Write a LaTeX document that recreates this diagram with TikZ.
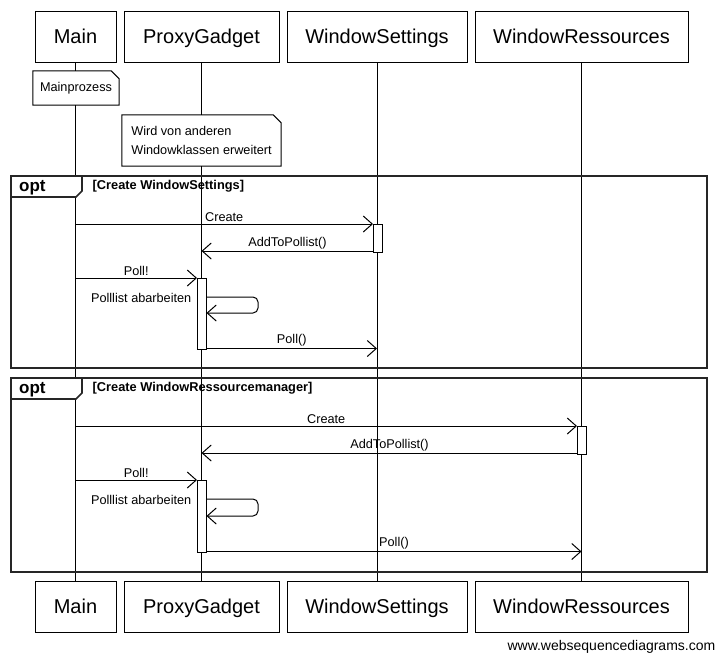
\documentclass[tikz,border=0pt]{standalone}
\usepackage{fontspec}
\setmainfont{Liberation Sans}
\usetikzlibrary{arrows.meta}
\begin{document}
\begin{tikzpicture}[x=1pt,y=-1pt,
  part/.style={draw, line width=1pt, fill=white, inner sep=0pt, minimum height=51pt, text height=17.5pt, text depth=4pt, font=\fontsize{20}{24}\selectfont},
  act/.style={draw, fill=white, line width=1pt, minimum width=9pt, inner sep=0pt},
  msg/.style={line width=1pt, -{Straight Barb[length=9pt,width=16pt]}},
  lbl/.style={font=\fontsize{12.7}{15}\selectfont, inner sep=1.5pt},
  framebox/.style={draw=black!85, line width=1.6pt},
  guard/.style={font=\bfseries\fontsize{12.8}{15}\selectfont, anchor=west, inner sep=0pt},
  optlbl/.style={font=\bfseries\fontsize{17}{20}\selectfont, anchor=west, inner sep=0pt},
  notebox/.style={fill=white, inner sep=0pt, align=left, font=\fontsize{12.7}{18.5}\selectfont},
  noteline/.style={line width=1pt}
]
\useasboundingbox (0,0) rectangle (716,654);

% participants
\node[part, minimum width=81pt]  (mainT) at (75.5,36.5) {Main};
\node[part, minimum width=155pt] (pgT)   at (201.5,36.5) {ProxyGadget};
\node[part, minimum width=180pt] (wsT)   at (377,36.5) {WindowSettings};
\node[part, minimum width=213pt] (wrT)   at (581.5,36.5) {WindowRessources};
\node[part, minimum width=81pt]  (mainB) at (75.5,606.5) {Main};
\node[part, minimum width=155pt] (pgB)   at (201.5,606.5) {ProxyGadget};
\node[part, minimum width=180pt] (wsB)   at (377,606.5) {WindowSettings};
\node[part, minimum width=213pt] (wrB)   at (581.5,606.5) {WindowRessources};

% lifelines
\draw[line width=1pt] (mainT.south) -- (mainB.north);
\draw[line width=1pt] (pgT.south) -- (pgB.north);
\draw[line width=1pt] (wsT.south) -- (wsB.north);
\draw[line width=1pt] (wrT.south) -- (wrB.north);

% notes
\node[notebox, minimum width=86pt, minimum height=34pt] (n1) at (76,88) {Mainprozess};
\draw[noteline] (n1.north west) -- ([xshift=-8pt]n1.north east) -- ([yshift=-8pt]n1.north east) -- (n1.south east) -- (n1.south west) -- cycle;
\node[notebox, minimum width=159pt, minimum height=51pt] (n2) at (201.5,140.5) {Wird von anderen\\Windowklassen erweitert};
\draw[noteline] (n2.north west) -- ([xshift=-8pt]n2.north east) -- ([yshift=-8pt]n2.north east) -- (n2.south east) -- (n2.south west) -- cycle;

% ---------- frame 1 ----------
\draw[framebox] (11,176) rectangle (707,368);
\draw[framebox, fill=white] (11,176) -- (82,176) -- (82,191) -- (76,197) -- (11,197) -- cycle;
\node[optlbl] (opt1) at (19,187.5) {opt};
\node[guard] (g1) at (92.5,186) {[Create WindowSettings]};

\node[act, minimum height=28pt] (wsA1) at (378,238) {};
\node[act, minimum height=71pt] (pgA1) at (202,313.5) {};

\coordinate (a1) at (75.5,224);
\draw[msg] (a1) -- (a1 -| wsA1.west) node[lbl, midway, above] {Create};
\coordinate (a2) at (373.5,251);
\draw[msg] (a2) -- (a2 -| pgT.south) node[lbl, midway, above] {AddToPollist()};
\coordinate (a3) at (75.5,278);
\draw[msg] (a3) -- (a3 -| pgA1.west) node[lbl, midway, above] {Poll!};
\coordinate (a4s) at (206.5,297);
\coordinate (a4e) at (206.5,313);
\draw[msg, rounded corners=5pt] (a4s) -- (258,297) -- (258,313) -- (a4e);
\node[lbl, anchor=east] (l4) at (193,298) {Polllist abarbeiten};
\coordinate (a5) at (206.5,348.5);
\draw[msg] (a5) -- (a5 -| wsT.south) node[lbl, midway, above] {Poll()};

% ---------- frame 2 ----------
\draw[framebox] (11,378) rectangle (707,572);
\draw[framebox, fill=white] (11,378) -- (82,378) -- (82,393) -- (76,399) -- (11,399) -- cycle;
\node[optlbl] (opt2) at (19,389.5) {opt};
\node[guard] (g2) at (92.5,388) {[Create WindowRessourcemanager]};

\node[act, minimum height=28pt] (wrA) at (582,440) {};
\node[act, minimum height=72pt] (pgA2) at (202,516) {};

\coordinate (b1) at (75.5,426);
\draw[msg] (b1) -- (b1 -| wrA.west) node[lbl, midway, above] {Create};
\coordinate (b2) at (577.5,453);
\draw[msg] (b2) -- (b2 -| pgT.south) node[lbl, midway, above] {AddToPollist()};
\coordinate (b3) at (75.5,480);
\draw[msg] (b3) -- (b3 -| pgA2.west) node[lbl, midway, above] {Poll!};
\coordinate (b4s) at (206.5,499);
\coordinate (b4e) at (206.5,516);
\draw[msg, rounded corners=5pt] (b4s) -- (258,499) -- (258,516) -- (b4e);
\node[lbl, anchor=east] (l8) at (193,500) {Polllist abarbeiten};
\coordinate (b5) at (206.5,551.5);
\draw[msg] (b5) -- (b5 -| wrT.south) node[lbl, midway, above] {Poll()};

% footer
\node[anchor=base east, inner sep=0pt, font=\fontsize{14}{16}\selectfont] (foot) at (715.5,650) {www.websequencediagrams.com};
\end{tikzpicture}
\end{document}
